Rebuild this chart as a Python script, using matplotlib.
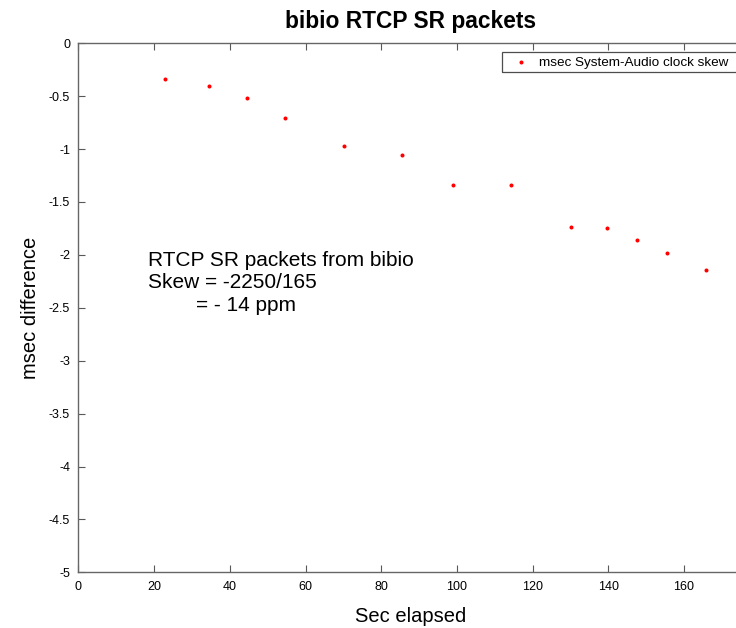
import matplotlib
matplotlib.use("Agg")
import matplotlib.pyplot as plt
from matplotlib.patches import Rectangle

plt.rcParams['font.family'] = ['Liberation Sans', 'DejaVu Sans']

sec_elapsed = [22.8, 34.6, 44.5, 54.7, 70.1, 85.5, 99.0, 114.2, 130.1, 139.6, 147.6, 155.6, 165.8]
msec_diff = [-0.337, -0.404, -0.520, -0.703, -0.971, -1.059, -1.336, -1.336, -1.739, -1.748, -1.862, -1.986, -2.142]
x_ticks = [0, 20, 40, 60, 80, 100, 120, 140, 160]
y_ticks = [0, -0.5, -1, -1.5, -2, -2.5, -3, -3.5, -4, -4.5, -5]
y_ticklabels = ['0', '-0.5', '-1', '-1.5', '-2', '-2.5', '-3', '-3.5', '-4', '-4.5', '-5']
series_label = 'msec System-Audio clock skew'
note_lines = ['RTCP SR packets from bibio', 'Skew = -2250/165', '= - 14 ppm']

W, H = 736, 628
PX_PER_X = 3.785
fig = plt.figure(figsize=(W / 100, H / 100), dpi=100)
left, right, top, bottom = 78.4, 742.0, 43.3, 572.3
ax = fig.add_axes([left / W, 1 - bottom / H, (right - left) / W, (bottom - top) / H])

ax.plot(sec_elapsed, msec_diff, linestyle='none', marker='o', markersize=2.9,
        color='red', markeredgewidth=0, label=series_label)

ax.set_xlim(0, (right - left) / PX_PER_X)
ax.set_ylim(-5, 0)
ax.set_xticks(x_ticks)
ax.set_yticks(y_ticks)
ax.set_yticklabels(y_ticklabels)
ax.tick_params(direction='in', length=5, width=0.8, color='0.35', labelsize=9,
               top=True, right=False, pad=6)
for s in ax.spines.values():
    s.set_color('0.4')
    s.set_linewidth(1.0)

ax.set_title('bibio RTCP SR packets', fontsize=16.4, fontweight='bold', pad=11)
ax.set_xlabel('Sec elapsed', fontsize=14.5, labelpad=10)
ax.set_ylabel('msec difference', fontsize=14.5, labelpad=6)

# annotation (positions in pixel rows converted to data units)
def py2y(py):
    return -(py - top) / (bottom - top) * 5

ax.text((148 - left) / PX_PER_X, py2y(266), note_lines[0], fontsize=15, va='baseline', ha='left')
ax.text((148 - left) / PX_PER_X, py2y(288), note_lines[1], fontsize=15, va='baseline', ha='left')
ax.text((196 - left) / PX_PER_X, py2y(311), note_lines[2], fontsize=15, va='baseline', ha='left')

leg = fig.legend(loc='upper left', bbox_to_anchor=(509 / W, 1 - 53 / H),
                 bbox_transform=fig.transFigure, fontsize=9.7, frameon=False,
                 borderaxespad=0, borderpad=0.3,
                 handlelength=1.2, handletextpad=0.75, markerscale=1.0)
fig.patches.append(Rectangle((502 / W, 1 - 71.7 / H), 300 / W, 20 / H,
                             transform=fig.transFigure, fill=False,
                             edgecolor='0.3', linewidth=0.9))

fig.savefig('out.png', dpi=100)
